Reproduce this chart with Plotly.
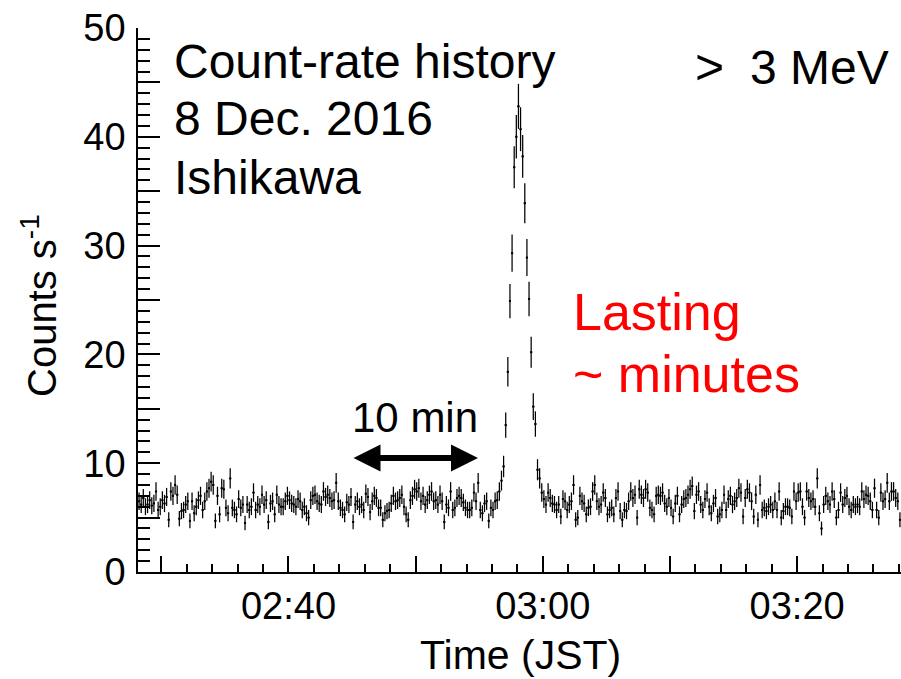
import numpy as np
import plotly.graph_objects as go

# ---- data (10 s bins, JST) ----
bin_start_min = 148 + 10 / 60.0      # 02:28:10 expressed in minutes after 00:00
bin_width_s = 10

rate_seg1 = [6.5, 6.2, 6.8, 6.0, 6.2, 6.6, 6.1, 6.3, 7.4, 5.7,
             6.0, 6.6, 6.3, 6.9, 4.8, 7.4, 7.0, 8.0, 7.1, 4.9,
             5.6, 5.7, 6.2, 6.5, 4.7, 6.5, 5.4, 6.0, 6.6, 7.0,
             5.7, 6.5, 7.4, 7.7, 8.3, 8.0, 4.7, 7.0, 5.3, 7.7,
             7.6, 5.9, 5.4, 8.6, 5.9, 5.7, 5.3, 6.7, 5.9, 6.2,
             4.5, 6.2, 5.7, 6.0, 7.3, 5.7, 6.2, 6.0, 7.1, 6.2,
             6.6, 4.6, 6.3, 6.5, 5.3, 7.1, 6.2, 6.0, 6.0, 6.5,
             7.0, 6.6, 6.3]
rate_seg2 = [6.2, 6.0, 6.7, 6.5, 5.7, 6.0, 5.4, 5.0, 6.6, 7.0,
             7.1, 6.5, 6.3, 6.2, 7.4, 6.9, 7.1, 6.8, 6.5, 6.6,
             8.2, 6.5, 5.9, 5.7, 5.3, 6.4, 6.2, 6.9, 4.6, 6.2,
             6.5, 6.0, 6.2, 5.7, 7.2, 6.9, 5.5, 6.5, 7.0, 6.8,
             5.9, 5.9, 4.8, 5.4, 5.6, 5.7, 6.3, 7.0, 6.5, 6.6,
             6.8, 7.1, 6.0, 5.3, 4.8, 6.6, 7.0, 7.6, 7.4, 7.7,
             6.5, 7.0, 6.2, 6.6, 7.1, 7.4, 6.5, 6.6, 6.2, 7.1,
             6.5, 4.6]
rate_seg3 = [6.2, 5.9, 7.4, 5.7, 5.9, 6.8, 7.0, 6.8, 6.4, 5.9,
             5.7, 5.7, 5.9, 7.3, 6.5, 8.2, 5.7, 5.4, 6.3, 6.5,
             4.7, 5.9, 5.7, 6.5, 6.6, 7.4, 8.4, 9.7, 13.5, 18.4,
             24.9, 29.3, 37.2, 40.0, 42.8, 40.7, 38.2, 33.9, 28.9, 25.1,
             20.2, 15.2, 13.6]
rate_seg4 = [9.4, 8.6, 7.3, 6.7, 6.2, 7.3, 6.8, 6.3, 6.2, 5.7,
             6.2, 5.1, 6.7, 6.5, 5.7, 6.2, 6.5, 8.0, 4.8, 5.0,
             7.0, 6.5, 6.3, 5.3, 5.9, 6.0, 7.4, 8.0, 6.5, 6.0,
             6.2, 7.3, 6.8, 5.3, 5.7, 5.9, 5.3, 6.8, 7.4, 5.6,
             4.8, 5.7, 5.6, 6.5, 7.4, 6.8, 7.1, 5.0, 7.6, 7.1,
             6.8, 7.6, 7.3, 5.9, 5.7, 5.3, 7.0, 7.1, 7.0, 7.3,
             6.3, 6.0, 6.8, 5.9, 5.1, 6.3, 7.0, 5.3, 6.2, 6.7,
             6.8, 7.1, 7.6, 7.9, 5.6, 7.1, 7.4, 6.2, 5.7, 6.7,
             7.3, 6.0, 5.4, 6.3, 6.8, 5.1]
rate_seg5 = [5.3, 5.7, 7.1, 5.7, 6.7, 7.0, 6.2, 6.5, 6.8, 7.7,
             7.3, 5.1, 6.8, 7.6, 7.3, 6.5]
rate_seg6 = [5.1, 7.1, 4.8, 8.0, 5.7, 5.9, 5.6, 6.0, 6.2, 5.7,
             6.5, 5.7, 7.4, 5.0, 5.6, 6.0, 6.0, 5.9,
             5.1, 7.4, 6.5, 7.3, 7.4, 6.0, 5.0, 7.4, 6.8, 6.5,
             6.7, 6.0, 8.6, 5.4, 4.0, 6.2, 7.0, 6.5, 6.2, 7.4,
             6.7, 5.0, 5.7, 7.3, 6.2, 6.8, 7.0, 6.0, 5.7,
             6.2, 6.0, 6.2, 6.0, 7.4, 6.7, 7.1, 7.0, 6.5, 5.7,
             7.7, 5.7, 5.0, 7.3, 6.5, 6.7, 8.2, 6.5, 7.4,
             7.4, 6.8, 6.5, 4.8]

# labelled ticks and unlabelled (10-min / 5-count) ticks
x_label_min = [160, 180, 200]
x_label_text = ["02:40", "03:00", "03:20"]
x_plain_min = [150, 170, 190]
y_label_vals = [0, 10, 20, 30, 40, 50]
y_label_text = ["0", "10", "20", "30", "40", "50"]
y_plain_vals = [5, 15, 25, 35, 45]

rate = np.array(rate_seg1 + rate_seg2 + rate_seg3 + rate_seg4 + rate_seg5 + rate_seg6)
nbins = len(rate)
bw_min = bin_width_s / 60.0
t_center = bin_start_min + (np.arange(nbins) + 0.5) * bw_min
err = np.sqrt(rate * bin_width_s) / bin_width_s

FONT = "Liberation Sans, Arial, Helvetica, sans-serif"

fig = go.Figure()
fig.add_trace(go.Scatter(
    x=t_center, y=rate, mode="markers",
    marker=dict(color="black", size=2, symbol="square"),
    error_y=dict(type="data", array=err, color="black", thickness=1.25, width=0),
    error_x=dict(type="constant", value=bw_min / 2, color="black", thickness=1.25, width=0),
    showlegend=False, hoverinfo="skip"))
# empty trace so that the overlay axes (unlabelled ticks) are drawn
fig.add_trace(go.Scatter(x=[], y=[], xaxis="x2", yaxis="y2", showlegend=False, hoverinfo="skip"))

x0 = bin_start_min
x1 = bin_start_min + nbins * bw_min

L, R, T, B = 138, 0, 28, 107
W, H = 901, 679
pw, ph = W - L - R, H - T - B

def px(x):
    return (x - L) / pw

def py(y):
    return (H - B - y) / ph

def xd(x):
    return x0 + (x - L) / pw * (x1 - x0)

def yd(y):
    return (H - B - y) / ph * 50

annotations = [
    dict(text="Count-rate history", x=px(172), y=py(61), xanchor="left", yanchor="middle", size=48, color="black"),
    dict(text="8 Dec. 2016", x=px(172), y=py(119), xanchor="left", yanchor="middle", size=48, color="black"),
    dict(text="Ishikawa", x=px(172), y=py(177), xanchor="left", yanchor="middle", size=48, color="black"),
    dict(text=">", x=px(709), y=py(67), xanchor="center", yanchor="middle", size=50, color="black"),
    dict(text="3 MeV", x=px(748), y=py(68), xanchor="left", yanchor="middle", size=48, color="black"),
    dict(text="Lasting", x=px(571), y=py(312), xanchor="left", yanchor="middle", size=52, color="#ff0000"),
    dict(text="~ minutes", x=px(571), y=py(374), xanchor="left", yanchor="middle", size=52, color="#ff0000"),
    dict(text="10 min", x=px(415), y=py(417), xanchor="center", yanchor="middle", size=42, color="black"),
    dict(text="Time (JST)", x=px(520), y=py(655), xanchor="center", yanchor="middle", size=41, color="black"),
]
ann = []
for a in annotations:
    ann.append(dict(text=a["text"], x=a["x"], y=a["y"], xref="paper", yref="paper",
                    xanchor=a["xanchor"], yanchor=a["yanchor"], showarrow=False,
                    font=dict(family=FONT, size=a["size"], color=a["color"])))
ann.append(dict(text="Counts s<sup>-1</sup>", x=px(39), y=py(306), xref="paper", yref="paper",
                xanchor="center", yanchor="middle", showarrow=False, textangle=-90,
                font=dict(family=FONT, size=40, color="black")))
ann.append(dict(text="", x=xd(478), y=yd(458), ax=xd(352), ay=yd(458),
                xref="x", yref="y", axref="x", ayref="y", showarrow=True,
                arrowhead=2, startarrowhead=2, arrowside="end+start",
                arrowwidth=6, arrowsize=0.9, startarrowsize=0.9, arrowcolor="black",
                standoff=0, startstandoff=0))

tick_style = dict(showgrid=False, zeroline=False, ticks="inside", tickwidth=1.5, tickcolor="black")

fig.update_layout(
    width=W, height=H,
    margin=dict(l=L, r=R, t=T, b=B),
    paper_bgcolor="white", plot_bgcolor="white",
    font=dict(family=FONT, color="black"),
    annotations=ann,
    xaxis=dict(range=[x0, x1], showline=True, linecolor="black", linewidth=1.5,
               ticklen=16, tickmode="array", tickvals=x_label_min, ticktext=x_label_text,
               tickfont=dict(size=38, family=FONT), ticklabelstandoff=0,
               minor=dict(ticks="inside", ticklen=8, tickwidth=1.5, tickcolor="black",
                          tickmode="linear", tick0=150, dtick=2, showgrid=False),
               **tick_style),
    yaxis=dict(range=[0, 50], showline=True, linecolor="black", linewidth=1.5,
               ticklen=22, tickmode="array", tickvals=y_label_vals, ticktext=y_label_text,
               tickfont=dict(size=38, family=FONT), ticklabelstandoff=3,
               minor=dict(ticks="inside", ticklen=12, tickwidth=1.5, tickcolor="black",
                          tickmode="linear", tick0=0, dtick=1, showgrid=False),
               **tick_style),
    xaxis2=dict(range=[x0, x1], overlaying="x", anchor="y2", side="bottom",
                showline=False, ticklen=16, tickmode="array", tickvals=x_plain_min,
                showticklabels=False, **tick_style),
    yaxis2=dict(range=[0, 50], overlaying="y", anchor="x2", side="left",
                showline=False, ticklen=22, tickmode="array", tickvals=y_plain_vals,
                showticklabels=False, **tick_style),
)

fig.write_html("out.html")
